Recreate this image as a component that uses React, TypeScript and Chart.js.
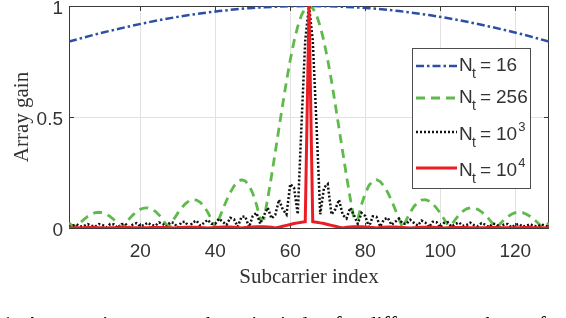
import { useEffect, useRef } from "react";
import { Chart, registerables } from "chart.js";

Chart.register(...registerables);

// ---- data ----
const X_MIN = 1;
const X_MAX = 129;
const X_TICKS = [20, 40, 60, 80, 100, 120];
const Y_TICKS = [0, 0.5, 1];

// subcarrier indices 1..129
const SUBCARRIERS = Array.from({ length: 129 }, (_, i) => i + 1);

// N_t = 16 (smooth curve, read every 8 subcarriers)
const NT16_INDEX = [1, 9, 17, 25, 33, 41, 49, 57, 65, 73, 81, 89, 97, 105, 113, 121, 129];
const NT16_GAIN = [0.84, 0.876, 0.908, 0.936, 0.959, 0.977, 0.99, 0.997, 1, 0.997, 0.99, 0.977, 0.959, 0.936, 0.908, 0.876, 0.84];

// N_t = 256
const NT256_GAIN = [
  0.023, 0.008, 0.008, 0.024, 0.039, 0.052, 0.062, 0.069, 0.071, 0.069,
  0.062, 0.051, 0.037, 0.019, 0, 0.02, 0.04, 0.058, 0.073, 0.084,
  0.09, 0.091, 0.086, 0.075, 0.059, 0.038, 0.013, 0.014, 0.041, 0.067,
  0.09, 0.109, 0.122, 0.128, 0.126, 0.116, 0.097, 0.071, 0.038, 0,
  0.041, 0.083, 0.124, 0.16, 0.189, 0.209, 0.217, 0.212, 0.192, 0.156,
  0.105, 0.038, 0.042, 0.133, 0.234, 0.341, 0.45, 0.558, 0.662, 0.757,
  0.84, 0.908, 0.959, 0.99, 1,
  0.99, 0.959, 0.908, 0.84, 0.757, 0.662, 0.558, 0.45, 0.341, 0.234,
  0.133, 0.042, 0.038, 0.105, 0.156, 0.192, 0.212, 0.217, 0.209, 0.189,
  0.16, 0.124, 0.083, 0.041, 0, 0.038, 0.071, 0.097, 0.116, 0.126,
  0.128, 0.122, 0.109, 0.09, 0.067, 0.041, 0.014, 0.013, 0.038, 0.059,
  0.075, 0.086, 0.091, 0.09, 0.084, 0.073, 0.058, 0.04, 0.02, 0,
  0.019, 0.037, 0.051, 0.062, 0.069, 0.071, 0.069, 0.062, 0.052, 0.039,
  0.024, 0.008, 0.008, 0.023,
];

// N_t = 10^3
const NT1E3_GAIN = [
  0.004, 0.011, 0.016, 0.007, 0.009, 0.017, 0.01, 0.006, 0.018, 0.013,
  0.003, 0.018, 0.016, 0.0, 0.017, 0.019, 0.004, 0.015, 0.022, 0.008,
  0.013, 0.024, 0.013, 0.01, 0.025, 0.018, 0.006, 0.026, 0.023, 0.002,
  0.026, 0.028, 0.004, 0.025, 0.033, 0.011, 0.023, 0.037, 0.019, 0.019,
  0.042, 0.028, 0.014, 0.046, 0.039, 0.006, 0.05, 0.052, 0.004, 0.054,
  0.068, 0.019, 0.057, 0.091, 0.043, 0.059, 0.127, 0.084, 0.061, 0.198,
  0.182, 0.062, 0.467, 0.846, 1,
  0.846, 0.467, 0.062, 0.182, 0.198, 0.061, 0.084, 0.127, 0.059, 0.043,
  0.091, 0.057, 0.019, 0.068, 0.054, 0.004, 0.052, 0.05, 0.006, 0.039,
  0.046, 0.014, 0.028, 0.042, 0.019, 0.019, 0.037, 0.023, 0.011, 0.033,
  0.025, 0.004, 0.028, 0.026, 0.002, 0.023, 0.026, 0.006, 0.018, 0.025,
  0.01, 0.013, 0.024, 0.013, 0.008, 0.022, 0.015, 0.004, 0.019, 0.017,
  0.0, 0.016, 0.018, 0.003, 0.013, 0.018, 0.006, 0.01, 0.017, 0.009,
  0.007, 0.016, 0.011, 0.004,
];

// N_t = 10^4
const NT1E4_GAIN = [
  0.001, 0, 0.001, 0.001, 0.001, 0.002, 0.002, 0.002, 0.001, 0.001,
  0, 0.001, 0.001, 0.001, 0.002, 0.002, 0.002, 0.001, 0.001, 0,
  0.001, 0.001, 0.002, 0.002, 0.002, 0.002, 0.002, 0.001, 0, 0.001,
  0.002, 0.003, 0.003, 0.003, 0.003, 0.002, 0.001, 0, 0.001, 0.002,
  0.003, 0.004, 0.004, 0.004, 0.003, 0.002, 0, 0.002, 0.003, 0.005,
  0.006, 0.006, 0.006, 0.005, 0.003, 0, 0.004, 0.008, 0.012, 0.016,
  0.02, 0.023, 0.026, 0.028, 1,
  0.028, 0.026, 0.023, 0.02, 0.016, 0.012, 0.008, 0.004, 0, 0.003,
  0.005, 0.006, 0.006, 0.006, 0.005, 0.003, 0.002, 0, 0.002, 0.003,
  0.004, 0.004, 0.004, 0.003, 0.002, 0.001, 0, 0.001, 0.002, 0.003,
  0.003, 0.003, 0.003, 0.002, 0.001, 0, 0.001, 0.002, 0.002, 0.002,
  0.002, 0.002, 0.001, 0.001, 0, 0.001, 0.001, 0.002, 0.002, 0.002,
  0.001, 0.001, 0.001, 0, 0.001, 0.001, 0.002, 0.002, 0.002, 0.001,
  0.001, 0.001, 0, 0.001,
];

const LEGEND_VALUES = ["16", "256", "10", "10"];
const LEGEND_SUPS = ["", "", "3", "4"];

const X_TITLE = "Subcarrier index";
const Y_TITLE = "Array gain";
const CAPTION = "Fig. 1: Array gain versus subcarrier index for different numbers of antennas.";

const COLORS = {
  nt16: "#2b4fa3",
  nt256: "#5eba4a",
  nt1e3: "#111111",
  nt1e4: "#ec1c24",
};
const DASHES = {
  nt16: [8, 3, 2.5, 3],
  nt256: [9, 6],
  nt1e3: [2, 2],
  nt1e4: [] as number[],
};
const WIDTHS = { nt16: 2.5, nt256: 2.8, nt1e3: 2.5, nt1e4: 3 };

const AXIS_COLOR = "#3a3a3a";
const TEXT_COLOR = "#333333";
const SANS = '"Liberation Sans", Arial, sans-serif';
const SERIF = '"Liberation Serif", "Times New Roman", serif';

const pts = (xs: number[], ys: number[]) => ys.map((y, i) => ({ x: xs[i], y }));

const framePlugin = {
  id: "frame",
  beforeDatasetsDraw(chart: any) {
    const { ctx, chartArea: a, scales } = chart;
    ctx.save();
    ctx.strokeStyle = AXIS_COLOR;
    ctx.lineWidth = 1;
    ctx.strokeRect(Math.round(a.left) + 0.5, Math.round(a.top) + 0.5, Math.round(a.right - a.left) - 1, Math.round(a.bottom - a.top));
    ctx.beginPath();
    X_TICKS.forEach((v) => {
      const x = Math.round(scales.x.getPixelForValue(v)) + 0.5;
      ctx.moveTo(x, a.bottom);
      ctx.lineTo(x, a.bottom - 5);
      ctx.moveTo(x, a.top);
      ctx.lineTo(x, a.top + 5);
    });
    Y_TICKS.forEach((v) => {
      const y = Math.round(scales.y.getPixelForValue(v)) + 0.5;
      ctx.moveTo(a.left, y);
      ctx.lineTo(a.left + 5, y);
      ctx.moveTo(a.right, y);
      ctx.lineTo(a.right - 5, y);
    });
    ctx.stroke();
    ctx.restore();
  },
  afterDraw(chart: any) {
    const { ctx, chartArea: a } = chart;
    ctx.save();
    // axis titles
    ctx.fillStyle = TEXT_COLOR;
    ctx.font = `21px ${SERIF}`;
    ctx.textAlign = "center";
    ctx.textBaseline = "alphabetic";
    ctx.fillText(X_TITLE, (a.left + a.right) / 2, 283);
    ctx.save();
    ctx.translate(28, (a.top + a.bottom) / 2);
    ctx.rotate(-Math.PI / 2);
    ctx.fillText(Y_TITLE, 0, 0);
    ctx.restore();

    // caption (cut off at the bottom)
    ctx.fillStyle = "#000";
    ctx.font = `22px ${SERIF}`;
    ctx.textAlign = "left";
    const pre = ctx.measureText("Fig. ").width;
    ctx.fillText(CAPTION, 2 - pre, 331);

    // legend
    const bx = 412, by = 48, bw = 118, bh = 140;
    ctx.fillStyle = "#ffffff";
    ctx.fillRect(bx, by, bw, bh);
    ctx.strokeStyle = "#4d4d4d";
    ctx.lineWidth = 1;
    ctx.strokeRect(bx + 0.5, by + 0.5, bw, bh);
    const lineYs = [66, 98, 132, 168];
    const keys: (keyof typeof COLORS)[] = ["nt16", "nt256", "nt1e3", "nt1e4"];
    keys.forEach((k, i) => {
      const ly = lineYs[i];
      ctx.save();
      ctx.strokeStyle = COLORS[k];
      ctx.lineWidth = WIDTHS[k];
      ctx.setLineDash(DASHES[k]);
      ctx.beginPath();
      ctx.moveTo(416, ly);
      ctx.lineTo(457, ly);
      ctx.stroke();
      ctx.restore();
      const base = ly + (LEGEND_SUPS[i] ? 8 : 4.5);
      ctx.fillStyle = TEXT_COLOR;
      ctx.textAlign = "left";
      ctx.font = `19px ${SANS}`;
      ctx.fillText("N", 459, base);
      ctx.font = `14px ${SANS}`;
      ctx.fillText("t", 472, base + 7);
      ctx.font = `19px ${SANS}`;
      ctx.fillText("=", 480, base);
      ctx.fillText(LEGEND_VALUES[i], 496, base);
      if (LEGEND_SUPS[i]) {
        const w = ctx.measureText(LEGEND_VALUES[i]).width;
        ctx.font = `13px ${SANS}`;
        ctx.fillText(LEGEND_SUPS[i], 496 + w + 1, base - 9);
      }
    });
    ctx.restore();
  },
};

export default function App() {
  const ref = useRef<HTMLCanvasElement>(null);
  useEffect(() => {
    const canvas = ref.current!;
    const chart = new Chart(canvas, {
      type: "line",
      data: {
        datasets: [
          {
            label: "N_t = 10^4",
            data: pts(SUBCARRIERS, NT1E4_GAIN),
            borderColor: COLORS.nt1e4,
            borderWidth: WIDTHS.nt1e4,
            borderDash: DASHES.nt1e4,
            order: 0,
            tension: 0,
            borderJoinStyle: "miter",
          },
          {
            label: "N_t = 10^3",
            data: pts(SUBCARRIERS, NT1E3_GAIN),
            borderColor: COLORS.nt1e3,
            borderWidth: WIDTHS.nt1e3,
            borderDash: DASHES.nt1e3,
            order: 1,
            tension: 0,
          },
          {
            label: "N_t = 256",
            data: pts(SUBCARRIERS, NT256_GAIN),
            borderColor: COLORS.nt256,
            borderWidth: WIDTHS.nt256,
            borderDash: DASHES.nt256,
            order: 2,
            tension: 0,
          },
          {
            label: "N_t = 16",
            data: pts(NT16_INDEX, NT16_GAIN),
            borderColor: COLORS.nt16,
            borderWidth: WIDTHS.nt16,
            borderDash: DASHES.nt16,
            order: 3,
            cubicInterpolationMode: "monotone",
          },
        ],
      },
      options: {
        responsive: false,
        animation: false,
        devicePixelRatio: 1,
        layout: { padding: { top: 6, right: 17, left: 0, bottom: 0 } },
        elements: { point: { radius: 0 } },
        plugins: { legend: { display: false }, tooltip: { enabled: false } },
        scales: {
          x: {
            type: "linear",
            min: X_MIN,
            max: X_MAX,
            afterBuildTicks: (s: any) => {
              s.ticks = X_TICKS.map((v) => ({ value: v }));
            },
            afterFit: (s: any) => {
              s.height = 90;
              s.paddingLeft = 0;
              s.paddingRight = 0;
            },
            grid: { color: "#e2e2e2", drawTicks: false },
            border: { display: false },
            ticks: {
              autoSkip: false,
              maxRotation: 0,
              padding: 12,
              color: TEXT_COLOR,
              font: { family: SANS, size: 19 },
            },
          },
          y: {
            type: "linear",
            min: 0,
            max: 1,
            afterBuildTicks: (s: any) => {
              s.ticks = Y_TICKS.map((v) => ({ value: v }));
            },
            afterFit: (s: any) => {
              s.width = 69;
              s.paddingTop = 0;
              s.paddingBottom = 0;
            },
            grid: { color: "#e2e2e2", drawTicks: false },
            border: { display: false },
            ticks: {
              padding: 6,
              labelOffset: 3,
              color: TEXT_COLOR,
              font: { family: SANS, size: 19 },
              callback: (v: any) => String(v),
            },
          },
        },
      },
      plugins: [framePlugin],
    });
    return () => chart.destroy();
  }, []);
  return (
    <div style={{ position: "absolute", left: 0, top: 0, width: 566, height: 318, background: "#fff", overflow: "hidden" }}>
      <canvas ref={ref} width={566} height={318} style={{ display: "block", width: 566, height: 318 }} />
    </div>
  );
}
